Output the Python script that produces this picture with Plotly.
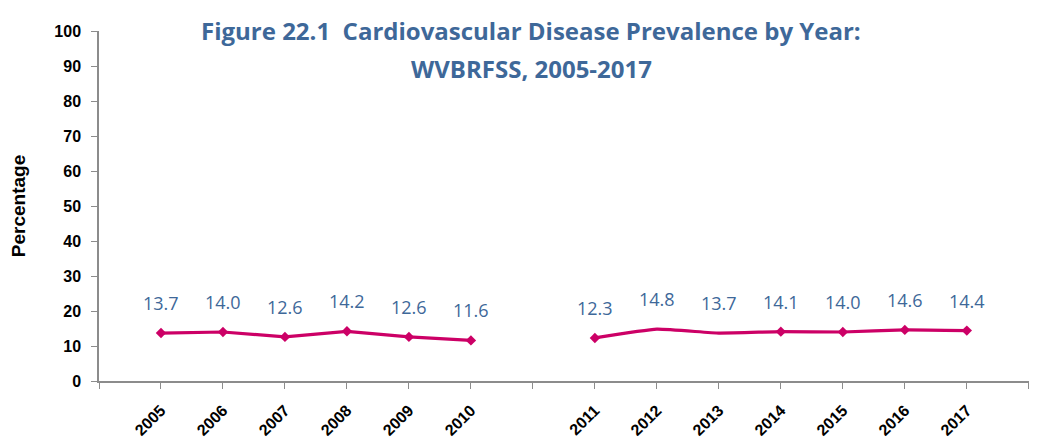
import plotly.graph_objects as go

years_a = ["2005", "2006", "2007", "2008", "2009", "2010"]
values_a = [13.7, 14.0, 12.6, 14.2, 12.6, 11.6]
years_b = ["2011", "2012", "2013", "2014", "2015", "2016", "2017"]
values_b = [12.3, 14.8, 13.7, 14.1, 14.0, 14.6, 14.4]

title_lines = ["Figure 22.1  Cardiovascular Disease Prevalence by Year:", "WVBRFSS, 2005-2017"]

# slot positions: one empty slot before, between the two groups, and after
pos_a = list(range(0, 6))
pos_b = list(range(7, 14))

LINE = "#CC0066"
BLUE = "#3E6899"

fig = go.Figure()
fig.add_trace(go.Scatter(x=pos_a, y=values_a, mode="lines+markers",
                         line=dict(color=LINE, width=3.2),
                         marker=dict(symbol="diamond", size=8, color=LINE,
                                     line=dict(width=0), opacity=1),
                         showlegend=False, hoverinfo="skip"))
fig.add_trace(go.Scatter(x=pos_b, y=values_b, mode="lines+markers",
                         line=dict(color=LINE, width=3.2, shape="spline", smoothing=0.4),
                         marker=dict(symbol="diamond", size=[8, 0, 0, 8, 8, 8, 8], color=LINE,
                                     line=dict(width=0), opacity=1),
                         showlegend=False, hoverinfo="skip"))

for xs, vs in ((pos_a, values_a), (pos_b, values_b)):
    for x, v in zip(xs, vs):
        fig.add_annotation(x=x, y=v, text=f"{v:.1f}", showarrow=False,
                           yshift=30, font=dict(family="Open Sans", size=18, color=BLUE))

# title as two lines with wide spacing
fig.add_annotation(xref="paper", yref="paper", x=0.462, y=1.0, yshift=1,
                   text=title_lines[0], showarrow=False, xanchor="center", yanchor="middle",
                   font=dict(family="Open Sans", size=24, color=BLUE, weight="bold"))
fig.add_annotation(xref="paper", yref="paper", x=0.462, y=1.0, yshift=-37,
                   text=title_lines[1], showarrow=False, xanchor="center", yanchor="middle",
                   font=dict(family="Open Sans", size=24, color=BLUE, weight="bold"))

tickvals = list(range(-1, 15))
ticktext = []
for t in tickvals:
    if t in pos_a:
        ticktext.append(years_a[pos_a.index(t)])
    elif t in pos_b:
        ticktext.append(years_b[pos_b.index(t)])
    else:
        ticktext.append("")

fig.update_layout(
    width=1037, height=440,
    margin=dict(l=91, r=10, t=23, b=67),
    paper_bgcolor="white", plot_bgcolor="white",
    xaxis=dict(range=[-1, 14.1], tickmode="array", tickvals=tickvals, ticktext=ticktext,
               tickangle=-45, showgrid=False, zeroline=False, automargin=False,
               showline=True, linecolor="#8C8C8C", linewidth=1.5,
               ticks="outside", ticklen=6, tickcolor="#8C8C8C", ticklabelstandoff=6,
               tickfont=dict(family="Liberation Sans", size=16, color="black", weight="bold")),
    yaxis=dict(range=[0, 100], dtick=10, showgrid=False, zeroline=False, automargin=False,
               showline=True, linecolor="#8C8C8C", linewidth=1.5,
               ticks="outside", ticklen=6, tickcolor="#8C8C8C", ticklabelstandoff=7,
               tickfont=dict(family="Liberation Sans", size=16, color="black", weight="bold"),
               title=dict(text="Percentage", standoff=30,
                          font=dict(family="Liberation Sans", size=19, color="black", weight="bold"))),
)

fig.write_html("out.html")
